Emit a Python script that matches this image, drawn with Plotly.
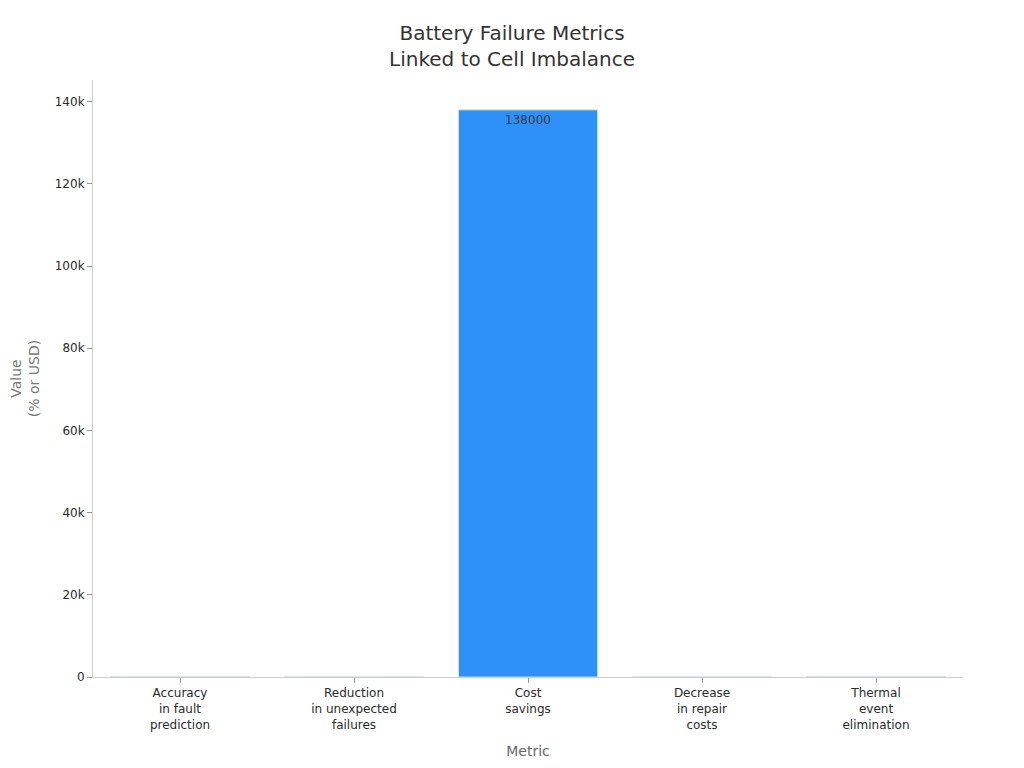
"""Bar chart of battery failure metrics linked to cell imbalance."""
import plotly.graph_objects as go

# Data
metrics = ['Accuracy<br>in fault<br>prediction',
           'Reduction<br>in unexpected<br>failures',
           'Cost<br>savings',
           'Decrease<br>in repair<br>costs',
           'Thermal<br>event<br>elimination']
values = [95, 73, 138000, 30, 100]
labels = ['', '', '138000', '', '']

fig = go.Figure()
fig.add_trace(go.Bar(x=metrics, y=values,
                     text=labels, textposition='inside',
                     insidetextanchor='end',
                     textfont=dict(color='#3a3a3a', size=12),
                     marker=dict(color=values,
                                 colorscale=[[0, '#e3ecf6'], [1, '#2e91f9']],
                                 line=dict(color='#d6e2ee', width=1))))

# margins account for the 8px page margin around the autosized plot
fig.update_layout(title=dict(text='Battery Failure Metrics<br>Linked to Cell Imbalance',
                             x=0.5, xanchor='center', y=0.9575, yanchor='middle',
                             font=dict(size=20, color='#333333')),
                  font=dict(family='DejaVu Sans', size=12, color='#2a2a2a'),
                  plot_bgcolor='white', paper_bgcolor='white',
                  bargap=0.2, showlegend=False,
                  margin=dict(l=85, r=53, t=72, b=83))
fig.update_xaxes(title_text='Metric',
                 title_font=dict(size=14, color='#666666'),
                 tickfont=dict(size=12), automargin=False,
                 showline=True, linecolor='#cccccc',
                 ticks='outside', tickcolor='#999999', ticklen=5)
fig.update_yaxes(title_text='Value<br>(% or USD)',
                 title_font=dict(size=14, color='#777777'),
                 tickfont=dict(size=12), automargin=False,
                 showline=True, linecolor='#cccccc', showgrid=False,
                 zeroline=False,
                 ticks='outside', tickcolor='#999999', ticklen=5)

fig.write_html('out.html')
